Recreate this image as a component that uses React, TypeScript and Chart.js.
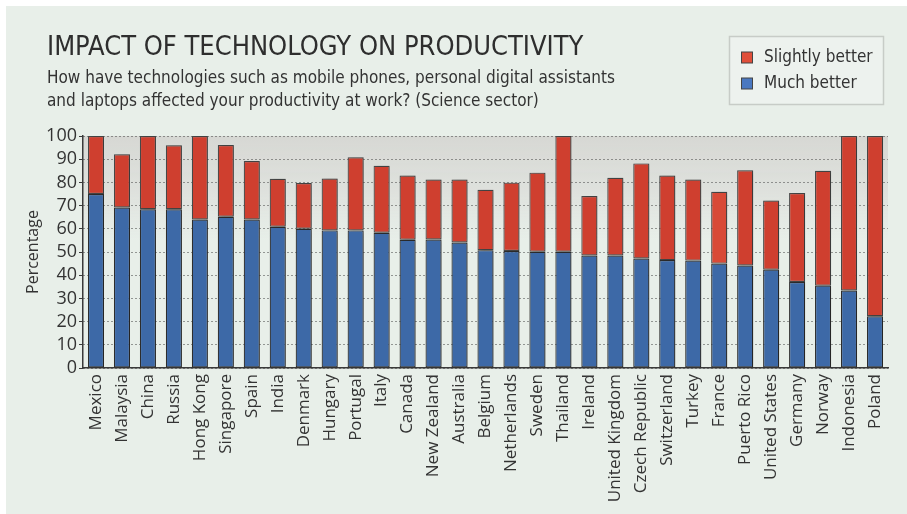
import React, { useEffect, useRef } from "react";
import { Chart, registerables } from "chart.js";

Chart.register(...registerables);

const TITLE = "IMPACT OF TECHNOLOGY ON PRODUCTIVITY";
const SUBTITLE_LINES = [
  "How have technologies such as mobile phones, personal digital assistants",
  "and laptops affected your productivity at work? (Science sector)",
];

const countries = [
  "Mexico", "Malaysia", "China", "Russia", "Hong Kong", "Singapore", "Spain",
  "India", "Denmark", "Hungary", "Portugal", "Italy", "Canada", "New Zealand",
  "Australia", "Belgium", "Netherlands", "Sweden", "Thailand", "Ireland",
  "United Kingdom", "Czech Republic", "Switzerland", "Turkey", "France",
  "Puerto Rico", "United States", "Germany", "Norway", "Indonesia", "Poland",
];

const muchBetter = [
  75.0, 69.2, 68.4, 68.4, 64.0, 65.2, 64.0, 60.9, 60.0, 59.3, 59.3, 58.3,
  55.3, 55.4, 54.1, 50.8, 50.4, 50.1, 50.1, 48.5, 48.5, 47.2, 46.5, 46.3,
  45.0, 44.2, 42.4, 37.1, 35.5, 33.4, 22.3,
];

const slightlyBetter = [
  25.0, 22.9, 31.6, 27.6, 36.0, 30.9, 25.2, 20.7, 19.7, 22.4, 31.5, 28.9,
  27.7, 25.8, 27.1, 26.0, 29.5, 34.1, 49.9, 25.6, 33.5, 41.0, 36.5, 34.9,
  31.0, 41.0, 29.8, 38.3, 49.5, 66.6, 77.7,
];

const yTickValues = [0, 10, 20, 30, 40, 50, 60, 70, 80, 90, 100];

const seriesLabels = ["Slightly better", "Much better"];
const Y_TITLE = "Percentage";

const RED = "#cf3f2f";
const BLUE = "#3d69a7";
const HEAD_FONT = "'DejaVu Sans Condensed', 'Liberation Sans Narrow', sans-serif";

const bgBandPlugin = {
  id: "bgBand",
  beforeDraw(chart: any) {
    const { ctx, chartArea } = chart;
    if (!chartArea) return;
    const { left, top, right, bottom } = chartArea;
    const h = (bottom - top) * 0.45;
    const g = ctx.createLinearGradient(0, top, 0, top + h);
    g.addColorStop(0, "rgba(214,215,211,1)");
    g.addColorStop(0.55, "rgba(220,222,218,0.8)");
    g.addColorStop(1, "rgba(222,226,222,0)");
    ctx.save();
    ctx.fillStyle = g;
    ctx.fillRect(left, top, right - left, h);
    ctx.restore();
  },
};

const shadowPlugin = {
  id: "barShadow",
  beforeDatasetsDraw(chart: any) {
    const ctx = chart.ctx;
    ctx.save();
    ctx.shadowColor = "rgba(0,0,0,0.28)";
    ctx.shadowBlur = 4;
    ctx.shadowOffsetX = 2;
    ctx.shadowOffsetY = 0;
  },
  afterDatasetsDraw(chart: any) {
    chart.ctx.restore();
  },
};

const headerPlugin = {
  id: "header",
  afterDraw(chart: any) {
    const ctx = chart.ctx;
    ctx.save();
    ctx.fillStyle = "#2e2e2e";
    ctx.textBaseline = "alphabetic";
    ctx.textAlign = "left";
    ctx.font = "27px " + HEAD_FONT;
    ctx.fillText(TITLE, 47, 55);
    ctx.font = "17px " + HEAD_FONT;
    ctx.fillStyle = "#333";
    ctx.fillText(SUBTITLE_LINES[0], 47, 83);
    ctx.fillText(SUBTITLE_LINES[1], 47, 106);

    // legend box
    ctx.fillStyle = "#edf2ee";
    ctx.strokeStyle = "#c7ccc7";
    ctx.lineWidth = 1.5;
    ctx.fillRect(729.5, 36.5, 154, 68);
    ctx.strokeRect(729.5, 36.5, 154, 68);
    const ds = chart.data.datasets;
    const order = [1, 0];
    order.forEach((di: number, k: number) => {
      const d = ds[di];
      const cy = 58 + k * 26;
      ctx.fillStyle = d.legendColor;
      ctx.fillRect(741.5, cy - 6, 11, 11);
      ctx.strokeStyle = "#444";
      ctx.lineWidth = 1;
      ctx.strokeRect(741.5, cy - 6, 11, 11);
      ctx.fillStyle = "#333";
      ctx.font = "17px " + HEAD_FONT;
      ctx.textBaseline = "middle";
      ctx.fillText(d.label, 764, cy);
    });
    ctx.restore();
  },
};

export default function App() {
  const ref = useRef<HTMLCanvasElement | null>(null);

  useEffect(() => {
    if (!ref.current) return;
    const chart = new Chart(ref.current, {
      type: "bar",
      data: {
        labels: countries,
        datasets: [
          {
            label: seriesLabels[1],
            data: muchBetter,
            backgroundColor: BLUE,
            borderColor: "#2f2f2f",
            borderWidth: 1.2,
            borderSkipped: false,
            barPercentage: 0.62,
            categoryPercentage: 1,
            legendColor: "#4a78c0",
          } as any,
          {
            label: seriesLabels[0],
            data: slightlyBetter,
            backgroundColor: countries.map((c) => (c === "France" ? "#d84a37" : RED)),
            borderColor: "#4a4a4a",
            borderWidth: 1.2,
            borderSkipped: false,
            barPercentage: 0.62,
            categoryPercentage: 1,
            legendColor: "#e04f3a",
          } as any,
        ],
      },
      options: {
        responsive: false,
        animation: false,
        layout: { padding: { left: 18, right: 19, top: 136, bottom: 0 } },
        plugins: {
          legend: { display: false },
          title: { display: false },
          tooltip: { enabled: false },
        },
        scales: {
          x: {
            stacked: true,
            afterFit: (s: any) => {
              s.height = 146;
            },
            grid: { display: true, drawOnChartArea: false, drawTicks: false },
            border: { display: true, color: "#3a3a3a", width: 1.5 },
            ticks: {
              autoSkip: false,
              minRotation: 90,
              maxRotation: 90,
              padding: 6,
              color: "#333",
              font: { family: "'Open Sans', sans-serif", size: 17 },
            },
          },
          y: {
            stacked: true,
            min: 0,
            max: 100,
            afterFit: (s: any) => {
              s.width = 65;
            },
            afterBuildTicks: (s: any) => {
              s.ticks = yTickValues.map((v) => ({ value: v }));
            },
            title: {
              display: true,
              text: Y_TITLE,
              color: "#333",
              font: { family: "'Open Sans', sans-serif", size: 16 },
              padding: { top: 6, bottom: 0 },
            },
            grid: {
              color: "#3c3c3c",
              lineWidth: 1,
              tickLength: 4,
              tickColor: "#3a3a3a",
            },
            border: { display: true, color: "#3a3a3a", width: 1.5, dash: [1, 3] },
            ticks: {
              autoSkip: false,
              padding: 2,
              color: "#333",
              font: { family: "'Open Sans', sans-serif", size: 18 },
            },
          },
        },
      },
      plugins: [bgBandPlugin, shadowPlugin, headerPlugin],
    });
    return () => chart.destroy();
  }, []);

  return (
    <div style={{ position: "absolute", left: 0, top: 0, width: 907, height: 514, background: "#ffffff", overflow: "hidden" }}>
      <div style={{ position: "absolute", left: 6, top: 6, width: 901, height: 508, background: "#e8efe9" }} />
      <canvas ref={ref} width={907} height={514} style={{ position: "absolute", left: 0, top: 0, width: 907, height: 514 }} />
    </div>
  );
}
